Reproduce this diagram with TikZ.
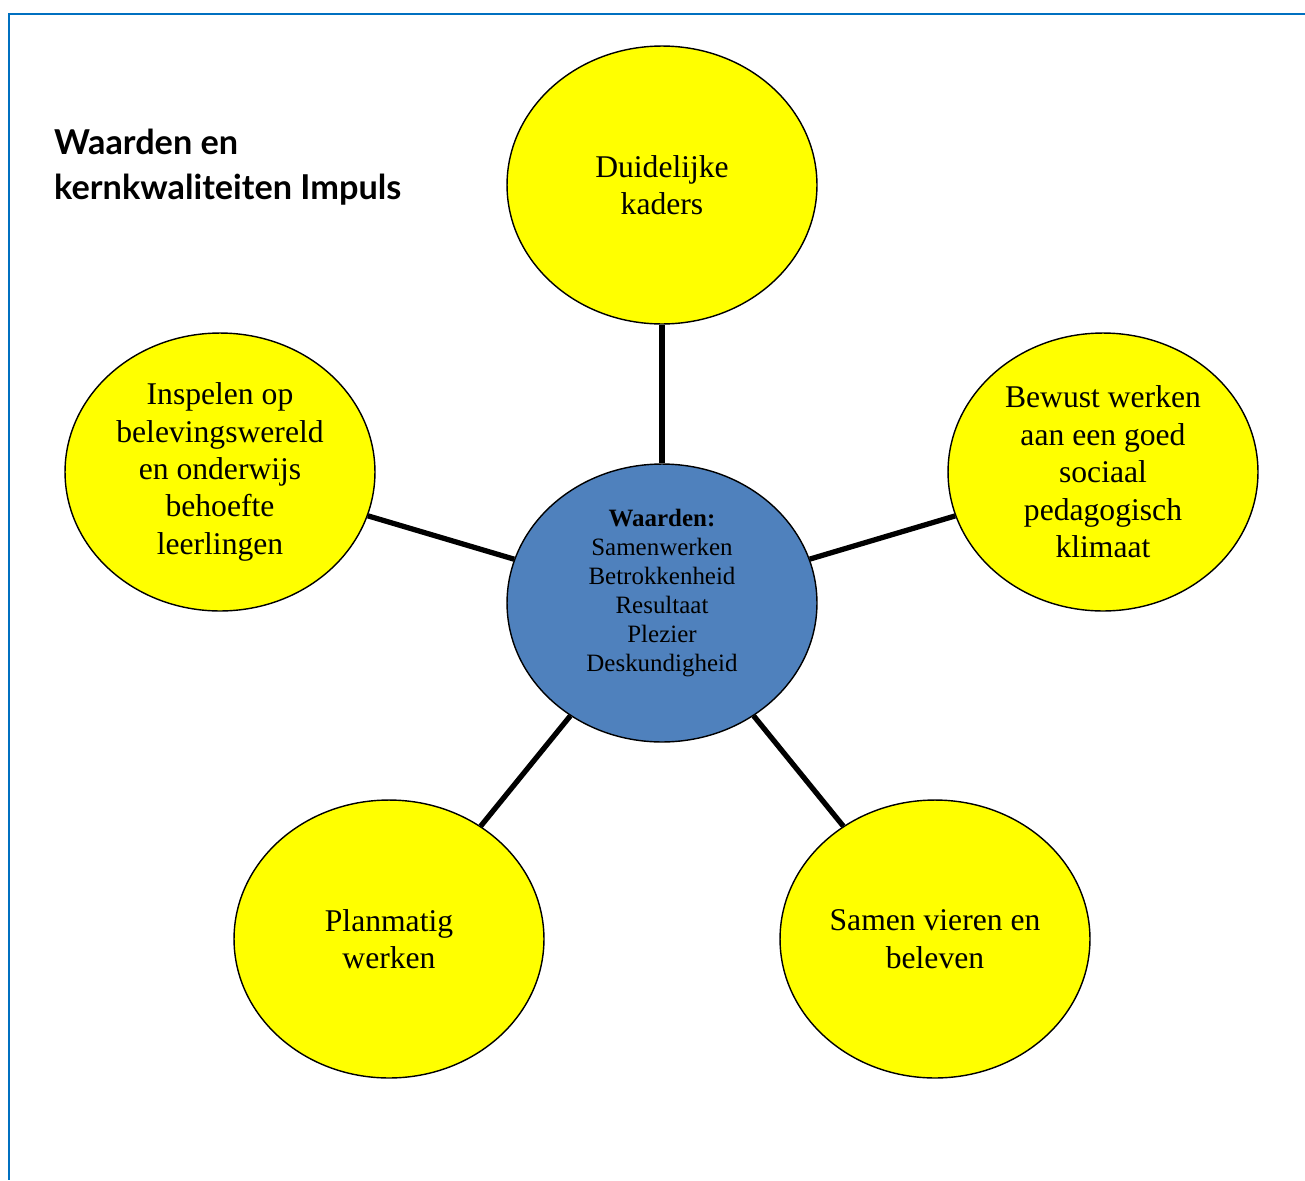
\documentclass[tikz,border=0pt]{standalone}
\usepackage{fontspec}
\setmainfont{Liberation Serif}
\newfontfamily\kopfont{Lato}
\usetikzlibrary{shapes.geometric,positioning}
\definecolor{kaderblauw}{HTML}{0070C0}
\definecolor{waardeblauw}{HTML}{4F81BD}
\definecolor{kerngeel}{HTML}{FFFF00}
\tikzset{
  kern/.style={ellipse, draw=black, line width=0.8pt, fill=kerngeel, minimum width=6.2cm,
    minimum height=5.56cm, inner sep=0pt, align=center, font=\fontsize{18}{21.3}\selectfont},
  waarde/.style={kern, fill=waardeblauw, font=\fontsize{14.2}{16.5}\selectfont},
  spaak/.style={line width=3pt}
}

\begin{document}
\begin{tikzpicture}[x=0.02cm,y=-0.02cm]
  \useasboundingbox (0,0) rectangle (1305,1180);
  % kader
  \draw[kaderblauw, line width=1.2pt] (1305,14) -- (9,14) -- (9,1180);
  \node[anchor=west, align=left, font=\kopfont\bfseries\fontsize{19.5}{25.5}\selectfont]
    (titel) at (48,167) {Waarden en\\kernkwaliteiten Impuls};
  % kern en kwaliteiten
  \node[waarde] (w) at (662,603) {\textbf{Waarden:}\\Samenwerken\\Betrokkenheid\\Resultaat\\Plezier\\Deskundigheid\\[-2pt]};
  \node[kern] (k1) at (662,185) {Duidelijke\\kaders};
  \node[kern] (k2) at (1103,472) {Bewust werken\\aan een goed\\sociaal\\pedagogisch\\klimaat};
  \node[kern] (k3) at (935,939) {Samen vieren en\\beleven};
  \node[kern] (k4) at (389,939) {Planmatig\\werken};
  \node[kern] (k5) at (220,472) {Inspelen op\\belevingswereld\\en onderwijs\\behoefte\\leerlingen};
  \foreach \k in {k1,k2,k3,k4,k5} \draw[spaak] (w) -- (\k);
\end{tikzpicture}
\end{document}
